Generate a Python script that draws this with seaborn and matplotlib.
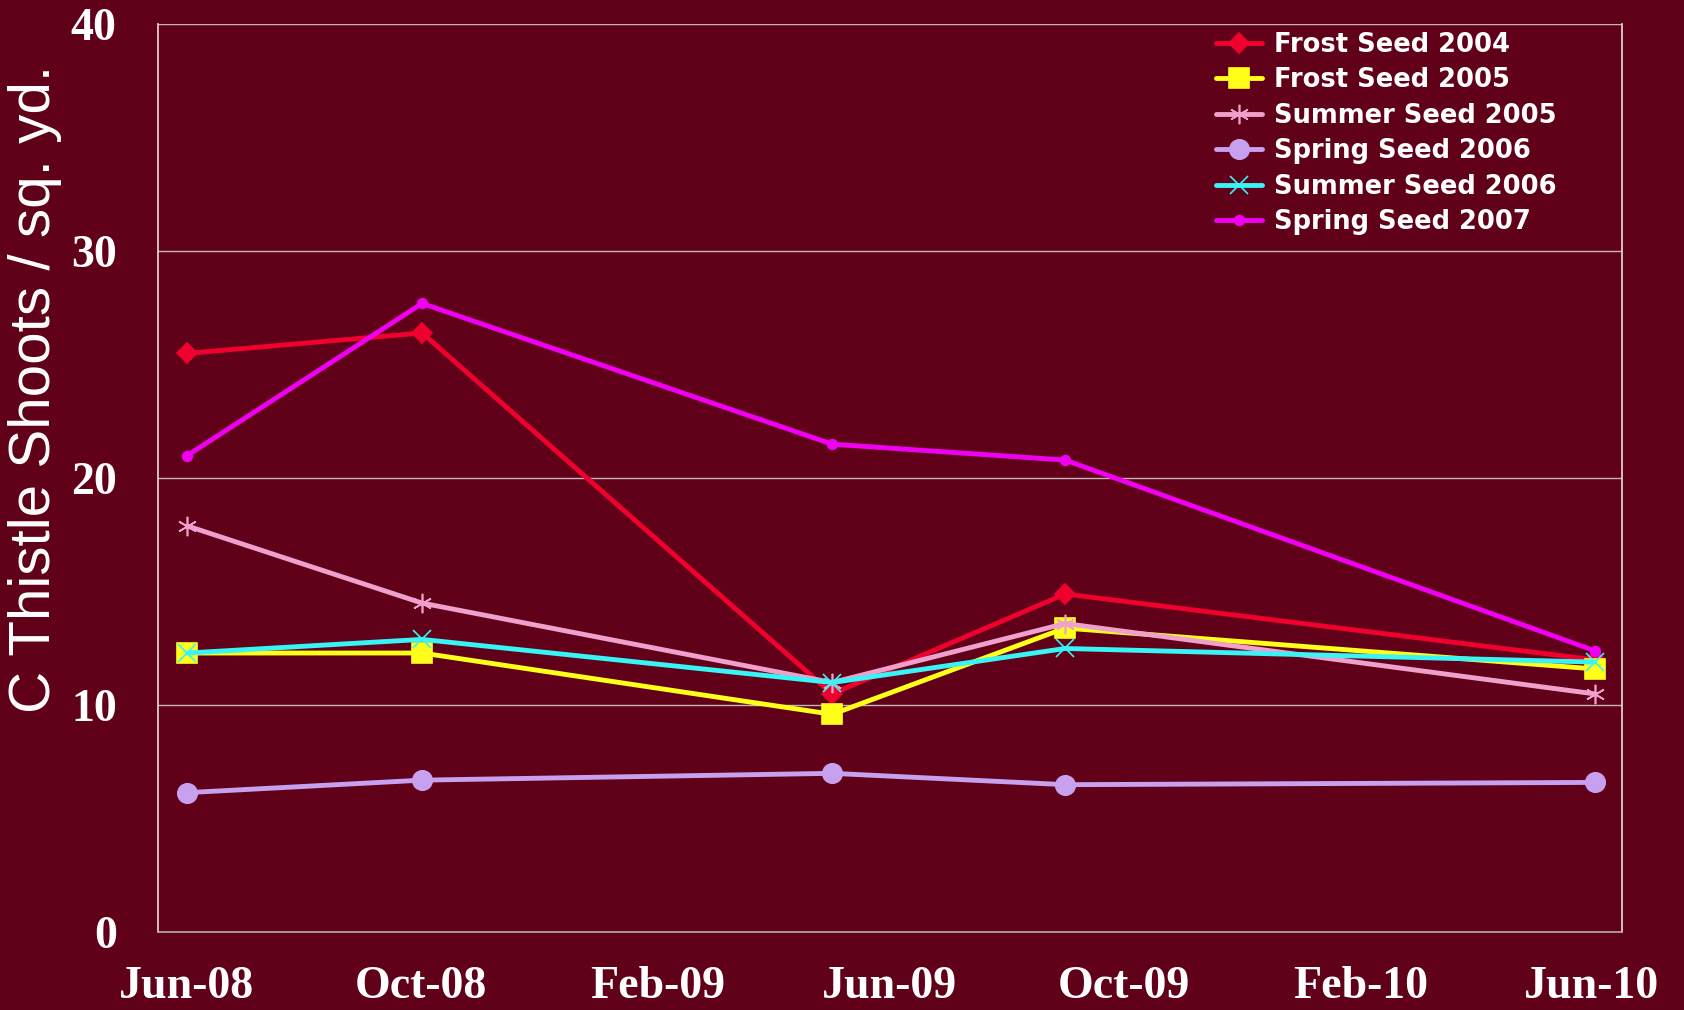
import numpy as np
import pandas as pd
import matplotlib
matplotlib.use('Agg')
import matplotlib.pyplot as plt
import matplotlib.dates as mdates
import matplotlib.transforms as mtransforms
import seaborn as sns

# sample dates (mid-month)
dates = pd.to_datetime(['2008-06-16', '2008-10-16', '2009-05-17', '2009-09-15', '2010-06-17'])

frost_2004 = [25.5, 26.4, 10.5, 14.9, 12.0]
frost_2005 = [12.3, 12.3, 9.6, 13.4, 11.6]
summer_2005 = [17.9, 14.5, 11.0, 13.6, 10.5]
spring_2006 = [6.15, 6.7, 7.0, 6.5, 6.6]
summer_2006 = [12.3, 12.9, 11.0, 12.5, 11.9]
spring_2007 = [21.0, 27.7, 21.5, 20.8, 12.4]

series_names = ['Frost Seed 2004', 'Frost Seed 2005', 'Summer Seed 2005',
                'Spring Seed 2006', 'Summer Seed 2006', 'Spring Seed 2007']
series_vals = [frost_2004, frost_2005, summer_2005, spring_2006, summer_2006, spring_2007]

bg = '#600019'
colors = ['#F0002D', '#FFFF1A', '#F0A0CC', '#C8A0F0', '#38F4F4', '#F000F0']
markers = ['D', 's', (6, 2, 0), 'o', 'x', 'o']
msizes = [10, 15, 14, 14, 13, 7]

sns.set_style('white')
plt.rcParams['font.family'] = ['DejaVu Sans']

fig = plt.figure(figsize=(16.84, 10.1), dpi=100, facecolor=bg)
ax = fig.add_axes([0.094, 0.077, 0.869, 0.899])
ax.set_facecolor(bg)

for name, vals, c, m, ms in zip(series_names, series_vals, colors, markers, msizes):
    sns.lineplot(x=dates, y=vals, ax=ax, color=c, linewidth=3.5, marker=m,
                 markersize=ms, markerfacecolor=c, markeredgecolor=c,
                 markeredgewidth=1.2, label=name)

ax.set_ylim(0, 40)
ax.set_yticks([0, 10, 20, 30, 40])
ax.set_xlim(pd.Timestamp('2008-06-01'), pd.Timestamp('2010-07-01'))
ax.xaxis.set_major_locator(mdates.MonthLocator(bymonth=[2, 6, 10]))
ax.xaxis.set_major_formatter(mdates.DateFormatter('%b-%y'))

ax.grid(axis='y', color='#C8B4B8', linewidth=1)
ax.set_axisbelow(True)
ax.spines['top'].set_visible(False)
ax.spines['left'].set_color('#E8E0E0')
ax.spines['right'].set_color('#E8E0E0')
ax.spines['bottom'].set_color('#B8A8AC')
for s in ax.spines.values():
    s.set_linewidth(1.2)

ax.tick_params(axis='x', colors='#E0D8D8', length=11, width=1, pad=13, direction='out')
ax.tick_params(axis='y', colors='#E0D8D8', length=11, width=1, pad=19)
for lab in ax.get_xticklabels() + ax.get_yticklabels():
    lab.set_fontfamily('Liberation Serif')
    lab.set_fontweight('bold')
    lab.set_fontsize(33)
    lab.set_color('white')
# x labels sit a little right of their ticks, as in the original
shift = mtransforms.ScaledTranslation(0.28, 0, fig.dpi_scale_trans)
for lab in ax.get_xticklabels():
    lab.set_transform(lab.get_transform() + shift)

ax.set_xlabel('')
ax.set_ylabel('C Thistle Shoots / sq. yd.', fontsize=42, color='white',
              family='Liberation Sans')
ax.yaxis.set_label_coords(-0.0655, 0.598)

leg = ax.legend(loc='upper left', frameon=False, prop={'weight': 'bold', 'size': 18.5},
                handlelength=1.8, handletextpad=0.45, labelspacing=0.37,
                bbox_to_anchor=(0.7227, 0.992), borderpad=0, borderaxespad=0)
for t in leg.get_texts():
    t.set_color('white')

fig.savefig('out.png', dpi=100, facecolor=bg)
